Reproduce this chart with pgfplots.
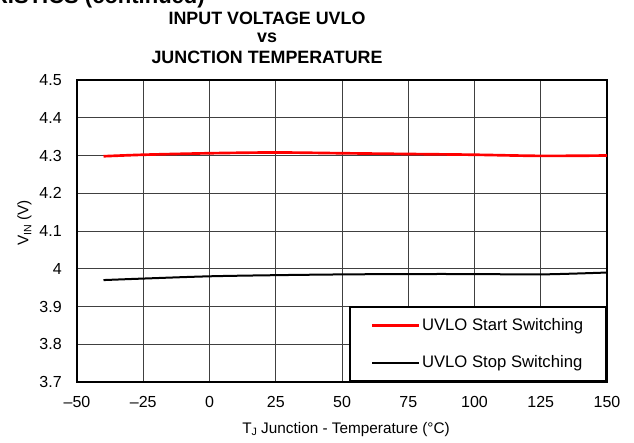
\documentclass[border=0pt]{standalone}
\usepackage{fontspec}
\setmainfont{Liberation Sans}
\usepackage{pgfplots}
\pgfplotsset{compat=1.18}

\begin{document}
\begin{tikzpicture}
% 1 px of the reference = 0.75pt; axis origin = lower left corner of the plot area
\begin{axis}[
  at={(0,0)}, anchor=south west,
  width=397.5pt, height=226.5pt, scale only axis,
  xmin=-50, xmax=150, ymin=3.7, ymax=4.5,
  xtick={-50,-25,0,25,50,75,100,125,150},
  xticklabels={--50,--25,0,25,50,75,100,125,150},
  ytick={3.7,3.8,3.9,4,4.1,4.2,4.3,4.4,4.5},
  yticklabels={3.7,3.8,3.9,4,4.1,4.2,4.3,4.4,4.5},
  /pgf/number format/assume math mode=true,
  tick label style={font=\fontsize{12}{14}\selectfont, inner sep=0pt},
  xticklabel style={anchor=base, yshift=-19.3pt},
  yticklabel style={anchor=east, xshift=-11.25pt},
  major tick length=0pt,
  grid=major,
  major grid style={black!75, line width=0.6pt},
  axis line style={black, line width=1.5pt},
  legend style={at={(rel axis cs:1,0)}, anchor=south east,
    draw=black, line width=1.5pt, fill=white,
    minimum width=192pt, minimum height=55.5pt,
    row sep=14.5pt, font=\fontsize{12.5}{14}\selectfont,
    nodes={inner sep=1.5pt, minimum width=0pt, minimum height=0pt}},
  legend cell align=left,
  legend image code/.code={\draw[#1] (0pt,0pt) -- (35pt,0pt);},
]
\addplot[red, line width=2pt, smooth] coordinates {
 (-40,4.298) (-25,4.302) (0,4.306) (25,4.308) (50,4.306)
 (75,4.304) (100,4.302) (125,4.299) (150,4.300) };
\addlegendentry{UVLO Start Switching}
\addplot[black, line width=1.5pt, smooth] coordinates {
 (-40,3.970) (-25,3.974) (0,3.980) (25,3.983) (50,3.985)
 (75,3.986) (100,3.986) (125,3.985) (150,3.990) };
\addlegendentry{UVLO Stop Switching}
\end{axis}
% labels
\node[rotate=90, font=\fontsize{11.5}{13}\selectfont] at (-39.4pt,119.25pt)
  {V\raisebox{-0.35ex}{\fontsize{8}{9}\selectfont IN} (V)};
\node[anchor=base, font=\fontsize{11.5}{13}\selectfont] at (201.75pt,-38.25pt)
  {T\raisebox{-0.35ex}{\fontsize{8}{9}\selectfont J} Junction - Temperature (°C)};
% title
\node[anchor=base, font=\fontsize{13.4}{15}\selectfont\bfseries] at (142.5pt,267.75pt) {INPUT VOLTAGE UVLO};
\node[anchor=base, font=\fontsize{13.4}{15}\selectfont\bfseries] at (142.5pt,254.5pt) {vs};
\node[anchor=base, font=\fontsize{13.4}{15}\selectfont\bfseries] at (142.5pt,239pt) {JUNCTION TEMPERATURE};
% page heading cut off at the top edge
\node[anchor=base east, inner sep=0pt, font=\fontsize{16.5}{18}\selectfont\bfseries] at (96pt,283.9pt)
  {TYPICAL CHARACTERISTICS (continued)};
\pgfresetboundingbox
\useasboundingbox (-57.75pt,-45pt) rectangle (417.75pt,286.5pt);
\end{tikzpicture}
\end{document}
